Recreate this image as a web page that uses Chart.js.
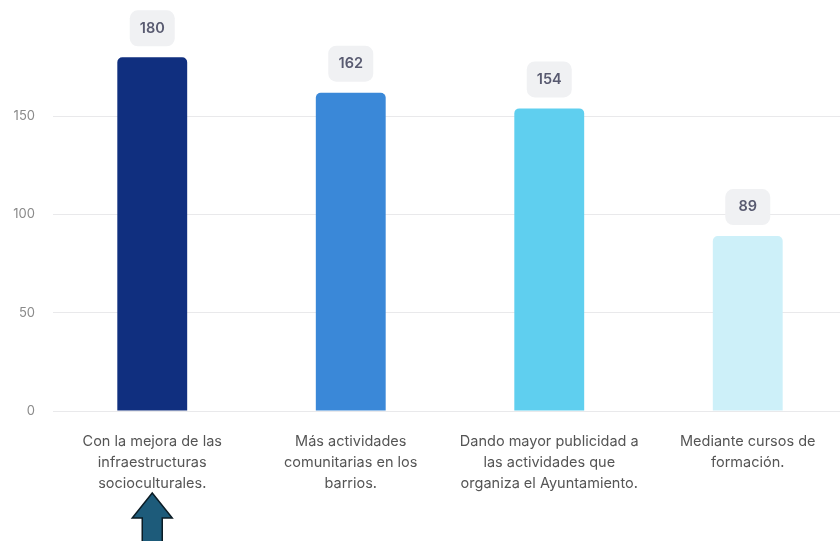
<!DOCTYPE html>
<html lang="es">
<head>
<meta charset="utf-8">
<script src="https://cdn.jsdelivr.net/npm/chart.js@4.4.1/dist/chart.umd.min.js"></script>
<style>
    html, body { margin: 0; padding: 0; background: #ffffff; overflow: hidden; }
    #wrap { width: 847px; height: 541px; }
</style>
</head>
<body>
<div id="wrap"><canvas id="grafico"></canvas></div>
<script>
// Datos del gráfico
const categorias = [
    ['Con la mejora de las', 'infraestructuras', 'socioculturales.'],
    ['Más actividades', 'comunitarias en los', 'barrios.'],
    ['Dando mayor publicidad a', 'las actividades que', 'organiza el Ayuntamiento.'],
    ['Mediante cursos de', 'formación.']
];
const valores = [180, 162, 154, 89];
const colores = ['#102f7f', '#3a88d8', '#5fcfef', '#cdf0f9'];
const ticksY = [0, 50, 100, 150];

// Plugin para dibujar las etiquetas de valor sobre cada barra
const etiquetasValor = {
    id: 'etiquetasValor',
    afterDatasetsDraw(chart) {
        const ctx = chart.ctx;
        const meta = chart.getDatasetMeta(0);
        ctx.save();
        meta.data.forEach((bar, i) => {
            const w = 45, h = 36;
            const x = bar.x - w / 2;
            const y = bar.y - 11 - h;
            ctx.fillStyle = '#f0f1f3';
            ctx.beginPath();
            ctx.roundRect(x, y, w, h, 8);
            ctx.fill();
            ctx.fillStyle = '#585a70';
            ctx.font = '600 14.5px Inter';
            ctx.textAlign = 'center';
            ctx.textBaseline = 'middle';
            ctx.fillText(String(valores[i]), bar.x, y + h / 2);
        });
        ctx.restore();
    }
};

// Plugin para la flecha bajo la primera categoría
const flecha = {
    id: 'flecha',
    afterDraw(chart) {
        const ctx = chart.ctx;
        const cx = chart.scales.x.getPixelForValue(0);
        ctx.save();
        ctx.beginPath();
        ctx.moveTo(cx, 493);
        ctx.lineTo(cx + 20, 518);
        ctx.lineTo(cx + 10, 518);
        ctx.lineTo(cx + 10, 545);
        ctx.lineTo(cx - 10, 545);
        ctx.lineTo(cx - 10, 518);
        ctx.lineTo(cx - 20, 518);
        ctx.closePath();
        ctx.fillStyle = '#1d5b7a';
        ctx.fill();
        ctx.lineWidth = 1.5;
        ctx.strokeStyle = '#0b1c25';
        ctx.stroke();
        ctx.restore();
    }
};

new Chart(document.getElementById('grafico'), {
    type: 'bar',
    data: {
        labels: categorias,
        datasets: [{
            data: valores,
            backgroundColor: colores,
            borderRadius: { topLeft: 5, topRight: 5 },
            borderSkipped: 'bottom',
            barPercentage: 0.44,
            categoryPercentage: 0.8
        }]
    },
    options: {
        responsive: true,
        maintainAspectRatio: false,
        animation: false,
        layout: { padding: { top: 18, left: 0, right: 0, bottom: 0 } },
        plugins: {
            legend: { display: false },
            tooltip: { enabled: false }
        },
        scales: {
            x: {
                grid: { display: false, drawTicks: false },
                border: { display: false },
                ticks: {
                    color: '#555555',
                    font: { family: 'Inter', size: 14.5, lineHeight: 1.45 },
                    padding: 20,
                    maxRotation: 0,
                    autoSkip: false
                },
                afterFit: (scale) => {
                    scale.height = 130;
                    scale.paddingLeft = 0;
                    scale.paddingRight = 0;
                }
            },
            y: {
                min: 0,
                max: 200,
                grid: {
                    drawTicks: false,
                    color: (c) => ticksY.includes(c.tick.value) ? '#e9e9eb' : 'rgba(0,0,0,0)'
                },
                border: { display: false },
                ticks: {
                    stepSize: 50,
                    color: '#8a8a8a',
                    font: { family: 'Inter', size: 13 },
                    padding: 18,
                    callback: (v) => ticksY.includes(v) ? v : ''
                },
                afterFit: (scale) => {
                    scale.width = 53;
                    scale.paddingTop = 0;
                    scale.paddingBottom = 0;
                }
            }
        }
    },
    plugins: [etiquetasValor, flecha]
});
</script>
</body>
</html>
